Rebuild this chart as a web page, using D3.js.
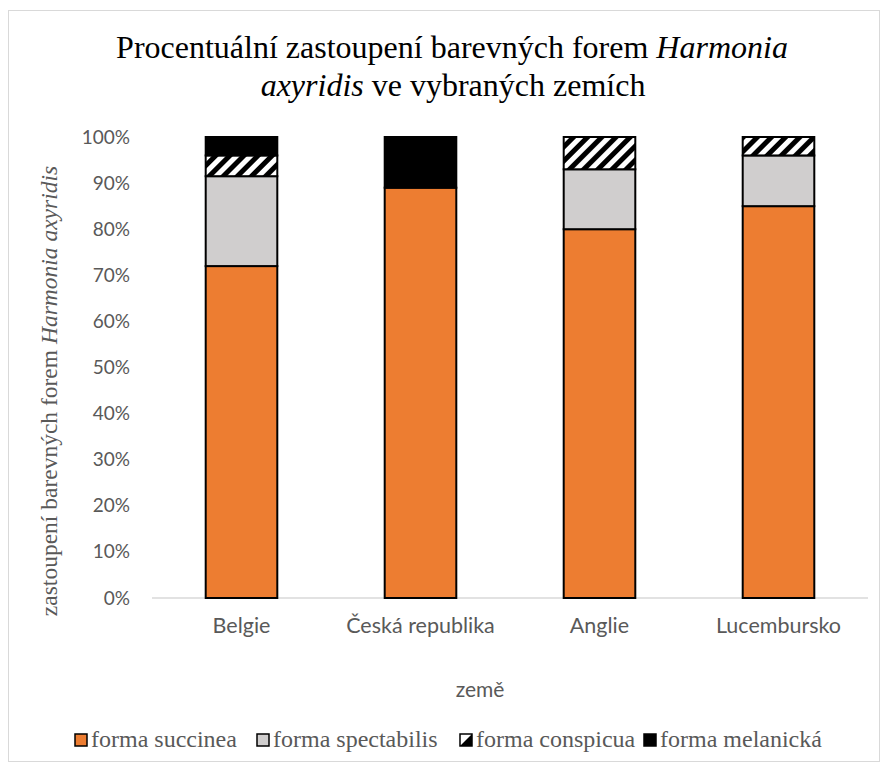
<!DOCTYPE html>
<html><head><meta charset="utf-8">
<script src="https://cdn.jsdelivr.net/npm/d3@7"></script>
<style>body{margin:0;background:#fff}svg{display:block}</style>
</head><body>
<script>
const categories = ["Belgie", "Česká republika", "Anglie", "Lucembursko"];
const seriesNames = ["forma succinea", "forma spectabilis", "forma conspicua", "forma melanická"];
const succinea = [72, 89, 80, 85];
const spectabilis = [19.5, 0, 13, 11];
const conspicua = [4.5, 0, 7, 4];
const melanicka = [4, 11, 0, 0];
const yTicks = [0, 10, 20, 30, 40, 50, 60, 70, 80, 90, 100];

const W = 888, H = 769;
const svg = d3.select("body").append("svg").attr("width", W).attr("height", H);
const defs = svg.append("defs");
const pat = defs.append("pattern").attr("id", "hatch").attr("patternUnits", "userSpaceOnUse")
  .attr("width", 10).attr("height", 10).attr("patternTransform", "rotate(45)");
pat.append("rect").attr("width", 10).attr("height", 10).attr("fill", "#fff");
pat.append("rect").attr("x", 0).attr("width", 5).attr("height", 10).attr("fill", "#000");

svg.append("rect").attr("x", 8.5).attr("y", 10.5).attr("width", 871).attr("height", 751)
  .attr("fill", "#fff").attr("stroke", "#d9d9d9");

const x = d3.scaleBand().domain(categories).range([152, 868]).paddingInner(0.6).paddingOuter(0.3);
const y = d3.scaleLinear().domain([0, 100]).range([598, 137]);

const fills = ["#ED7D31", "#D0CECE", "url(#hatch)", "#000000"];
const rows = categories.map((c, i) => ({cat: c, s0: succinea[i], s1: spectabilis[i], s2: conspicua[i], s3: melanicka[i]}));
const stack = d3.stack().keys(["s0", "s1", "s2", "s3"])(rows);

svg.append("line").attr("x1", 152).attr("x2", 868).attr("y1", y(0)).attr("y2", y(0))
  .attr("stroke", "#d9d9d9").attr("stroke-width", 1.5);

stack.forEach((layer, k) => {
  svg.append("g").selectAll("rect").data(layer.filter(d => d[1] - d[0] > 0)).join("rect")
    .attr("x", d => x(d.data.cat))
    .attr("y", d => y(d[1]))
    .attr("width", x.bandwidth())
    .attr("height", d => y(d[0]) - y(d[1]))
    .attr("fill", fills[k])
    .attr("stroke", "#000").attr("stroke-width", 2);
});

const sans = "Lato, 'Open Sans', sans-serif";
const serif = "'Liberation Serif', 'Times New Roman', serif";

const yAxis = svg.append("g").attr("transform", "translate(152,0)")
  .call(d3.axisLeft(y).tickValues(yTicks).tickFormat(d => d + "%").tickSize(0).tickPadding(22));
yAxis.select(".domain").remove();
yAxis.selectAll("text").attr("fill", "#595959").style("font-family", sans).style("font-size", "19px");

const xAxis = svg.append("g").attr("transform", `translate(0,${y(0)})`)
  .call(d3.axisBottom(x).tickSize(0).tickPadding(20));
xAxis.select(".domain").remove();
xAxis.selectAll("text").attr("fill", "#595959").style("font-family", sans).style("font-size", "21.5px");

svg.append("text").attr("x", 480).attr("y", 697).attr("text-anchor", "middle")
  .attr("fill", "#595959").style("font-family", sans).style("font-size", "21px").text("země");

// title
const t = svg.append("text").attr("text-anchor", "middle").style("font-family", serif).style("font-size", "32px").attr("fill", "#000");
const l1 = t.append("tspan").attr("x", 452).attr("y", 58);
l1.append("tspan").text("Procentuální zastoupení barevných forem ");
l1.append("tspan").style("font-style", "italic").text("Harmonia");
const l2 = t.append("tspan").attr("x", 453).attr("y", 96);
l2.append("tspan").style("font-style", "italic").text("axyridis");
l2.append("tspan").text(" ve vybraných zemích");

// y title
const yt = svg.append("text").attr("transform", "translate(57,391) rotate(-90)").attr("text-anchor", "middle")
  .style("font-family", serif).style("font-size", "23.5px").attr("fill", "#595959");
yt.append("tspan").style("font-family", serif).text("zastoupení barevných forem ");
yt.append("tspan").style("font-family", serif).style("font-style", "italic").text("Harmonia axyridis");

// legend
const legX = [75, 257, 460, 644];
const lg = svg.append("g");
seriesNames.forEach((name, i) => {
  const g = lg.append("g").attr("transform", `translate(${legX[i]},734)`);
  if (i === 2) {
    g.append("rect").attr("width", 12).attr("height", 12).attr("fill", "#fff");
    g.append("path").attr("d", "M12,0 L12,12 L0,12 Z").attr("fill", "#000");
    g.append("rect").attr("width", 12).attr("height", 12).attr("fill", "none").attr("stroke", "#000").attr("stroke-width", 1.5);
  } else {
    g.append("rect").attr("width", 12).attr("height", 12).attr("fill", fills[i])
      .attr("stroke", "#000").attr("stroke-width", 1.5);
  }
  g.append("text").attr("x", 16).attr("y", 13).style("font-family", serif).style("font-size", "24px")
    .attr("fill", "#595959").text(name);
});
</script>
</body></html>
